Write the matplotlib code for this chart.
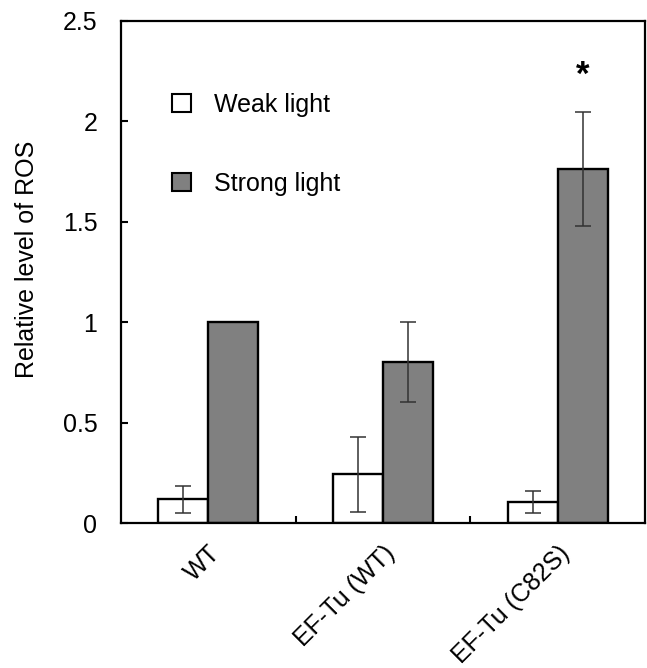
import matplotlib
matplotlib.use("Agg")
import matplotlib.pyplot as plt
from matplotlib.patches import Patch
import numpy as np

plt.rcParams['font.family'] = ['Liberation Sans', 'DejaVu Sans']

categories = ["WT", "EF-Tu (WT)", "EF-Tu (C82S)"]
weak = [0.118, 0.242, 0.105]
weak_err = [0.067, 0.188, 0.055]
strong = [1.0, 0.80, 1.761]
strong_err = [None, 0.20, 0.283]
series_labels = ["Weak light", "Strong light"]
yticks = [0, 0.5, 1, 1.5, 2, 2.5]
ytick_labels = ["0", "0.5", "1", "1.5", "2", "2.5"]

FS = 18

fig = plt.figure(figsize=(6.47, 6.68), dpi=100)
ax = fig.add_axes([0.187, 0.217, 0.810, 0.752])

x = np.arange(len(categories))
w = 0.286
ax.bar(x - w/2, weak, width=w, color="white", edgecolor="black", linewidth=1.7, zorder=2)
ax.bar(x + w/2, strong, width=w, color="#808080", edgecolor="black", linewidth=1.7, zorder=2)

ekw = dict(fmt="none", ecolor="#333333", elinewidth=1.1, capsize=6, capthick=1.1, zorder=3)
ax.errorbar(x - w/2, weak, yerr=weak_err, **ekw)
idx = [i for i, e in enumerate(strong_err) if e is not None]
ax.errorbar(x[idx] + w/2, [strong[i] for i in idx], yerr=[strong_err[i] for i in idx], **ekw)

ax.text(x[2] + w/2, 2.23, "*", ha="center", va="center", fontsize=25, fontweight="bold")

ax.set_xlim(-0.5, len(categories) - 0.5)
ax.set_ylim(0, 2.5)
ax.set_yticks(yticks)
ax.set_yticklabels(ytick_labels, fontsize=FS)
ax.tick_params(axis="y", direction="in", length=5, width=1.5, pad=17)
ax.set_xticks(x)
ax.set_xticklabels(categories, fontsize=FS, rotation=45, ha="right", va="top", rotation_mode="anchor")
ax.tick_params(axis="x", which="major", length=0, pad=13)
ax.set_xticks(np.arange(0.5, len(categories) - 0.5, 1), minor=True)
ax.tick_params(axis="x", which="minor", direction="in", length=5, width=1.5)
for s in ax.spines.values():
    s.set_linewidth(1.6)

ax.set_ylabel("Relative level of ROS", fontsize=FS, labelpad=16)
ax.yaxis.set_label_coords(-0.157, 0.525)

handles = [Patch(facecolor="white", edgecolor="black", linewidth=1.5),
           Patch(facecolor="#808080", edgecolor="black", linewidth=1.5)]
ax.legend(handles, series_labels, loc="upper left", bbox_to_anchor=(0.097, 0.857),
          frameon=False, fontsize=FS, handlelength=0.76, handleheight=0.76,
          handletextpad=0.92, labelspacing=2.2, borderpad=0, borderaxespad=0)

fig.savefig("out.png", dpi=100)
